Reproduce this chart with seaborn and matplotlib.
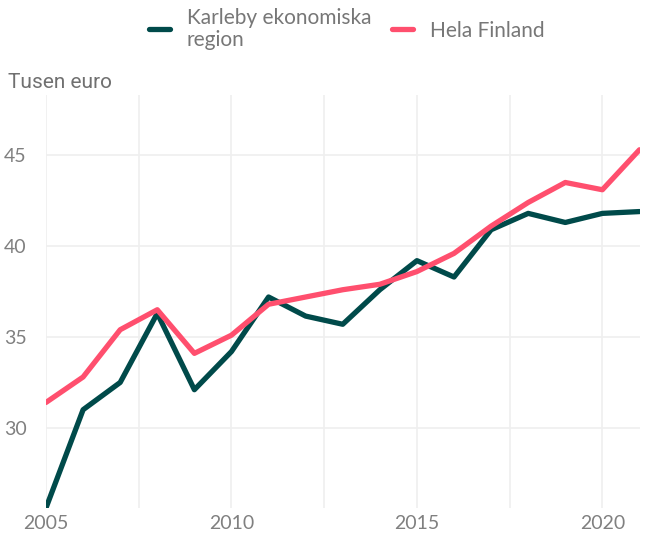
import pandas as pd
import numpy as np
import seaborn as sns
import matplotlib.pyplot as plt
from matplotlib.ticker import MultipleLocator

years = list(range(2005, 2022))
karleby = [25.6, 31.0, 32.5, 36.3, 32.1, 34.2, 37.2, 36.15, 35.7, 37.6,
           39.2, 38.3, 40.9, 41.8, 41.3, 41.8, 41.9]
finland = [31.4, 32.8, 35.4, 36.5, 34.1, 35.1, 36.8, 37.2, 37.6, 37.9,
           38.6, 39.6, 41.1, 42.4, 43.5, 43.1, 45.3]
series_names = ['Karleby ekonomiska\nregion', 'Hela Finland']
colors = ['#004a4a', '#ff4f6e']

df = pd.DataFrame({
    'year': years * 2,
    'value': karleby + finland,
    'series': [series_names[0]] * len(years) + [series_names[1]] * len(years),
})

sns.set_style('white')
plt.rcParams['font.family'] = ['Lato', 'DejaVu Sans']

fig = plt.figure(figsize=(6.48, 5.38), dpi=100)
ax = fig.add_axes([0.071, 0.056, 0.917, 0.767])

sns.lineplot(data=df, x='year', y='value', hue='series', palette=colors,
             linewidth=3.8, ax=ax, legend=True)

ax.set_xlim(2005, 2021.02)
ax.set_ylim(25.6, 48.3)
ax.xaxis.set_major_locator(MultipleLocator(5))
ax.xaxis.set_minor_locator(MultipleLocator(2.5))
ax.yaxis.set_major_locator(MultipleLocator(5))
ax.grid(True, which='both', axis='x', color='#efefef', linewidth=1.2)
ax.grid(True, which='major', axis='y', color='#efefef', linewidth=1.2)
ax.set_axisbelow(True)
for s in ax.spines.values():
    s.set_visible(False)
ax.tick_params(axis='both', which='both', length=0, labelsize=14, labelcolor='#808080')
ax.tick_params(axis='x', pad=5)
ax.tick_params(axis='y', pad=14)
ax.set_xlabel('')
ax.set_ylabel('')

fig.text(0.012, 0.836, 'Tusen euro', fontsize=15, color='#707070', family=['Roboto', 'DejaVu Sans'])

handles, labels = ax.get_legend_handles_labels()
ax.get_legend().remove()
leg = fig.legend(handles, labels, loc='upper center', bbox_to_anchor=(0.535, 1.02),
                 ncol=2, frameon=False, fontsize=15, labelcolor='#777777',
                 handlelength=1.0, handletextpad=0.8, columnspacing=1.0)
for t in leg.get_texts():
    t.set_multialignment('left')
    t.set_linespacing(1.1)

fig.savefig('out.png', dpi=100)
